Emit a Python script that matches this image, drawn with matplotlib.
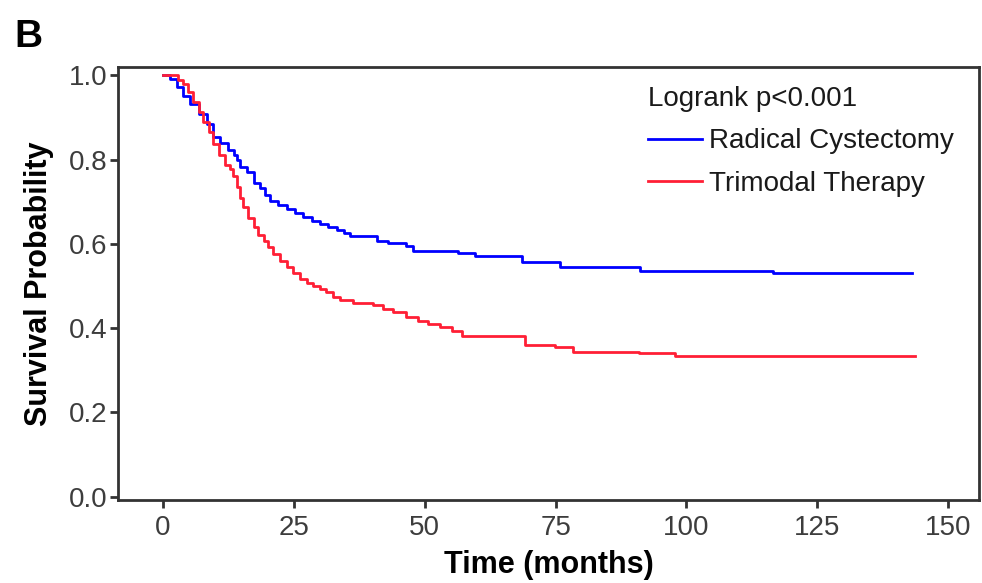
import matplotlib
matplotlib.use("Agg")
import matplotlib.pyplot as plt

plt.rcParams['font.family'] = ['Liberation Sans', 'DejaVu Sans']

# Kaplan-Meier steps (time in months, survival after drop)
rc_time = [0, 1.3, 2.6, 3.9, 5.2, 6.8, 8.4, 9.6, 10.9, 12.5, 13.5, 14.1, 14.7, 16.0,
           17.3, 18.5, 19.5, 20.4, 22.0, 23.6, 25.2, 26.8, 28.4, 30.0, 31.6, 33.2,
           34.5, 35.7, 40.8, 43.0, 46.5, 47.8, 56.4, 59.6, 68.5, 75.8, 91.1, 116.6, 143.0]
rc_surv = [1.0, 0.992, 0.972, 0.952, 0.933, 0.909, 0.885, 0.853, 0.840, 0.822, 0.810,
           0.800, 0.782, 0.770, 0.745, 0.732, 0.715, 0.703, 0.692, 0.683, 0.673, 0.663,
           0.655, 0.648, 0.640, 0.632, 0.625, 0.618, 0.608, 0.601, 0.594, 0.584, 0.579,
           0.572, 0.557, 0.545, 0.535, 0.530, 0.530]

tmt_time = [0, 2.9, 3.9, 4.8, 5.8, 6.8, 7.7, 8.7, 9.6, 10.6, 11.8, 12.8, 13.4, 14.1,
            14.7, 15.3, 16.3, 17.3, 18.2, 19.2, 20.1, 21.1, 22.3, 23.6, 24.9, 26.2,
            27.5, 28.7, 30.0, 31.2, 32.5, 33.8, 36.3, 40.2, 42.0, 44.0, 46.5, 48.8,
            50.7, 53.0, 55.2, 57.1, 69.2, 74.9, 78.4, 91.0, 97.8, 143.7]
tmt_surv = [1.0, 0.99, 0.98, 0.96, 0.937, 0.913, 0.889, 0.865, 0.837, 0.81, 0.788,
            0.778, 0.76, 0.735, 0.71, 0.687, 0.662, 0.640, 0.622, 0.608, 0.592, 0.576,
            0.560, 0.545, 0.530, 0.517, 0.508, 0.501, 0.493, 0.485, 0.475, 0.466,
            0.459, 0.454, 0.446, 0.438, 0.426, 0.418, 0.410, 0.402, 0.394, 0.382,
            0.359, 0.355, 0.343, 0.340, 0.333, 0.333]

x_ticks = [0, 25, 50, 75, 100, 125, 150]
y_ticks = [0.0, 0.2, 0.4, 0.6, 0.8, 1.0]

fig = plt.figure(figsize=(9.82, 5.83), dpi=100)
ax = fig.add_axes([0.1202, 0.1424, 0.8768, 0.7427])

ax.step(rc_time, rc_surv, where='post', color='#0000ff', lw=2, label='Radical Cystectomy')
ax.step(tmt_time, tmt_surv, where='post', color='#ff1f35', lw=2, label='Trimodal Therapy')

ax.set_xlim(-8.6, 155.9)
ax.set_ylim(-0.008, 1.02)
ax.set_xticks(x_ticks)
ax.set_yticks(y_ticks)
ax.set_yticklabels(['%.1f' % v for v in y_ticks])

for sp in ax.spines.values():
    sp.set_linewidth(2)
    sp.set_color('#333333')
ax.tick_params(length=5.5, width=2, color='#333333', labelsize=20, labelcolor='#3d3d3d')
ax.tick_params(axis='y', pad=2)
ax.tick_params(axis='x', pad=5)

ax.set_xlabel('Time (months)', fontsize=22, fontweight='bold', labelpad=7)
ax.set_ylabel('Survival Probability', fontsize=22, fontweight='bold', labelpad=11)

leg = ax.legend(title='Logrank p<0.001', loc='upper left', bbox_to_anchor=(0.615, 0.957),
                frameon=False, fontsize=20, title_fontsize=20, handlelength=1.95,
                handletextpad=0.25, labelspacing=0.6, borderpad=0, borderaxespad=0,
                alignment='left')
for t in leg.get_texts():
    t.set_color('#1a1a1a')
leg.get_title().set_color('#1a1a1a')

fig.text(0.015, 0.92, 'B', fontsize=28, fontweight='bold', ha='left', va='baseline')

fig.savefig('out.png', dpi=100)
